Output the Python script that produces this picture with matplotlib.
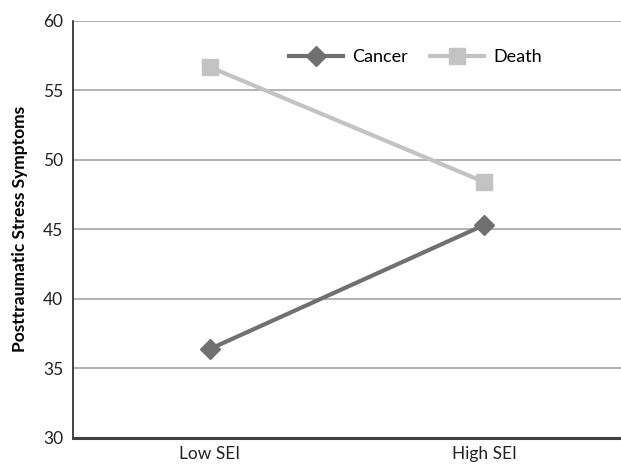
import matplotlib
matplotlib.use("Agg")
import matplotlib.pyplot as plt

categories = ["Low SEI", "High SEI"]
cancer = [36.4, 45.3]
death = [56.65, 48.4]
yticks = [30, 35, 40, 45, 50, 55, 60]

plt.rcParams['font.family'] = ['Lato', 'DejaVu Sans']

fig = plt.figure(figsize=(6.21, 4.67), dpi=100)
ax = fig.add_axes([73/621, 29/467, 548/621, 417.5/467])

x = [0.5, 1.5]
ax.plot(x, cancer, color='#707070', lw=3, marker='D', markersize=10.5, label='Cancer', zorder=3)
ax.plot(x, death, color='#c3c3c3', lw=3, marker='s', markersize=12, label='Death', zorder=3)

ax.set_xlim(0, 2)
ax.set_ylim(30, 60)
ax.set_yticks(yticks)
ax.set_xticks(x)
ax.set_xticklabels(categories)
ax.tick_params(length=0, labelsize=12.5, colors='#222222', pad=7)
ax.tick_params(axis='x', pad=6)
ax.yaxis.grid(True, color='#a6a6a6', lw=1.2)
ax.set_axisbelow(True)
for s in ['top', 'right']:
    ax.spines[s].set_visible(False)
ax.spines['left'].set_color('#222222')
ax.spines['left'].set_linewidth(1.2)
ax.spines['bottom'].set_color('#404040')
ax.spines['bottom'].set_linewidth(2.2)
ax.set_ylabel('Posttraumatic Stress Symptoms', fontsize=12.5, fontweight='bold', labelpad=11)

ax.legend(loc='center', bbox_to_anchor=(0.625, 0.913), ncol=2, frameon=False,
          fontsize=13, handlelength=3.0, columnspacing=1.2, handletextpad=0.5)

fig.savefig('out.png', dpi=100)
